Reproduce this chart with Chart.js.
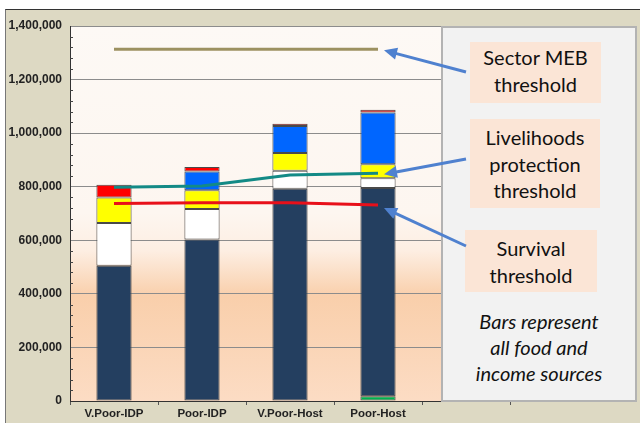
<!DOCTYPE html>
<html>
<head>
<meta charset="utf-8">
<script src="https://cdn.jsdelivr.net/npm/chart.js@4.4.1/dist/chart.umd.min.js"></script>
<style>
  html, body { margin: 0; padding: 0; background: #fff; }
  #wrap { position: relative; width: 640px; height: 423px; overflow: hidden; }
  #frame { position: absolute; left: 5px; top: 9px; right: 0; bottom: 0; background: #ddd9c3;
           border-top: 1px solid #333; border-left: 1px solid #777; }
  #chart { position: absolute; left: 0; top: 0; }
  #panel { position: absolute; left: 441px; top: 26px; width: 192px; height: 372px;
           background: #f2f2f2; border: 2px solid #b3b3b3; }
  .box { position: absolute; background: #fbe5d6; font-family: Lato, "Open Sans", sans-serif;
         font-size: 20px; line-height: 26.5px; color: #111; text-align: center; }
  #note { position: absolute; left: 0; width: 192px; top: 280px; text-align: center;
          font-family: Lato, "Open Sans", sans-serif; font-style: italic; font-size: 20px;
          line-height: 26px; color: #111; }
  #arrows { position: absolute; left: 0; top: 0; pointer-events: none; }
</style>
</head>
<body>
<div id="wrap">
  <div id="frame"></div>
  <canvas id="chart" width="640" height="423"></canvas>
  <div id="panel">
    <div class="box" style="left:27px;top:14px;width:131px;height:61px;padding-top:2px;box-sizing:border-box;">Sector MEB<br>threshold</div>
    <div class="box" style="left:27px;top:91px;width:130px;height:89px;padding-top:5px;box-sizing:border-box;">Livelihoods<br>protection<br>threshold</div>
    <div class="box" style="left:22px;top:202px;width:132px;height:62px;padding-top:5px;box-sizing:border-box;">Survival<br>threshold</div>
    <div id="note">Bars represent<br>all food and<br>income sources</div>
  </div>
  <svg id="arrows" width="640" height="423"></svg>
</div>
<script>
// categories (the last slot sits behind the text panel)
const categories = ['V.Poor-IDP', 'Poor-IDP', 'V.Poor-Host', 'Poor-Host', ''];

// stacked bar parts, bottom to top
const greenPart  = [null, null, null, 18000];
const navyPart   = [505000, 603000, 792000, 777000];
const whitePart  = [160000, 114000, 68000, 37000];
const yellowPart = [95000, 70000, 66000, 52000];
const bluePart   = [null, 70000, 101000, 193000];
const redPart    = [47000, 17000, 8000, 10000];

// threshold lines
const mebThreshold = [1313000, 1313000, 1313000, 1313000];
const livelihoodsThreshold = [798000, 803000, 844000, 850000];
const survivalThreshold = [737000, 740000, 740000, 732000];

// y axis
const yMax = 1400000;
const yStep = 200000;
const yMinorStep = 40000;

const plotBg = {
    id: 'plotBg',
    beforeDraw(chart) {
        const { ctx, chartArea: a } = chart;
        const g = ctx.createLinearGradient(0, a.top, 0, a.bottom);
        g.addColorStop(0, '#fdf9f5');
        g.addColorStop(0.5, '#fdf6f0');
        g.addColorStop(0.6, '#fdeee2');
        g.addColorStop(0.72, '#f9cfab');
        g.addColorStop(1, '#fcdcc4');
        ctx.save();
        ctx.fillStyle = g;
        ctx.fillRect(a.left, a.top, a.right - a.left, a.bottom - a.top);
        ctx.restore();
    }
};

const minorTicks = {
    id: 'minorTicks',
    afterDraw(chart) {
        const { ctx, chartArea: a } = chart;
        const y = chart.scales.y;
        ctx.save();
        ctx.strokeStyle = '#444';
        ctx.lineWidth = 1;
        for (let v = 0; v <= yMax; v += yMinorStep) {
            if (v % yStep === 0) continue;
            const py = Math.round(y.getPixelForValue(v)) + 0.5;
            ctx.beginPath();
            ctx.moveTo(a.left, py);
            ctx.lineTo(a.left + 3, py);
            ctx.stroke();
        }
        ctx.restore();
    }
};

// arrows from the text boxes to the ends of the threshold lines
const arrowPlugin = {
    id: 'arrowPlugin',
    afterRender(chart) {
        const x = chart.scales.x, y = chart.scales.y;
        const last = 3;
        const tipX = x.getPixelForValue(last) + 6;
        const arrows = [
            [466, 72, tipX, y.getPixelForValue(mebThreshold[last]) + 1],
            [466, 159, tipX, y.getPixelForValue(livelihoodsThreshold[last]) + 1],
            [466, 246, tipX, y.getPixelForValue(survivalThreshold[last]) + 3]
        ];
        let svg = '';
        arrows.forEach(([x1, y1, x2, y2]) => {
            const dx = x2 - x1, dy = y2 - y1;
            const len = Math.hypot(dx, dy);
            const ux = dx / len, uy = dy / len;
            const hl = 13, hw = 6;
            const bx = x2 - ux * hl, by = y2 - uy * hl;
            svg += '<line x1="' + x1 + '" y1="' + y1 + '" x2="' + (bx + ux * 2) + '" y2="' + (by + uy * 2) +
                '" stroke="#4f81cf" stroke-width="3"/>';
            svg += '<polygon points="' + x2 + ',' + y2 + ' ' + (bx - uy * hw) + ',' + (by + ux * hw) + ' ' +
                (bx + uy * hw) + ',' + (by - ux * hw) + '" fill="#4f81cf"/>';
        });
        document.getElementById('arrows').innerHTML = svg;
    }
};

const barStyle = { type: 'bar', stack: 'bars', borderColor: '#4a4a4a', borderWidth: 1, borderSkipped: false, order: 1 };
const lineStyle = { type: 'line', pointRadius: 0, borderWidth: 3, tension: 0, fill: false, order: 0 };

new Chart(document.getElementById('chart'), {
    data: {
        labels: categories,
        datasets: [
            { ...barStyle, label: 'Green', data: greenPart, backgroundColor: '#00b050' },
            { ...barStyle, label: 'Navy', data: navyPart, backgroundColor: '#243f60' },
            { ...barStyle, label: 'White', data: whitePart, backgroundColor: '#ffffff' },
            { ...barStyle, label: 'Yellow', data: yellowPart, backgroundColor: '#ffff00' },
            { ...barStyle, label: 'Blue', data: bluePart, backgroundColor: '#0066ff' },
            { ...barStyle, label: 'Red', data: redPart, backgroundColor: '#ff0000' },
            { ...lineStyle, label: 'Sector MEB threshold', stack: 'meb', data: mebThreshold, borderColor: '#9c9160' },
            { ...lineStyle, label: 'Livelihoods protection threshold', stack: 'lp', data: livelihoodsThreshold, borderColor: '#138a86' },
            { ...lineStyle, label: 'Survival threshold', stack: 'surv', data: survivalThreshold, borderColor: '#e8101a' }
        ]
    },
    options: {
        responsive: false,
        animation: false,
        layout: { padding: { left: 0, right: 130, top: 26, bottom: 0 } },
        plugins: { legend: { display: false }, tooltip: { enabled: false } },
        datasets: { bar: { categoryPercentage: 1, barPercentage: 0.4 } },
        scales: {
            x: {
                stacked: true,
                grid: { drawOnChartArea: false, drawTicks: true, tickLength: 4, color: '#555', offset: true },
                border: { color: '#333', width: 1 },
                ticks: { color: '#222', padding: 2, maxRotation: 0, autoSkip: false,
                         font: { family: '"Liberation Sans", Arial, sans-serif', size: 11.5, weight: 'bold' } },
                afterFit(scale) { scale.height = 22; }
            },
            y: {
                stacked: true,
                min: 0,
                max: yMax,
                grid: { color: '#8c8c8c', lineWidth: 1, drawTicks: false },
                border: { color: '#333', width: 1 },
                ticks: { stepSize: yStep, padding: 8, color: '#222',
                         font: { family: '"Liberation Sans", Arial, sans-serif', size: 12, weight: 'bold' },
                         callback: v => v.toLocaleString('en-US') },
                afterFit(scale) { scale.width = 70; }
            }
        }
    },
    plugins: [plotBg, minorTicks, arrowPlugin]
});
</script>
</body>
</html>
